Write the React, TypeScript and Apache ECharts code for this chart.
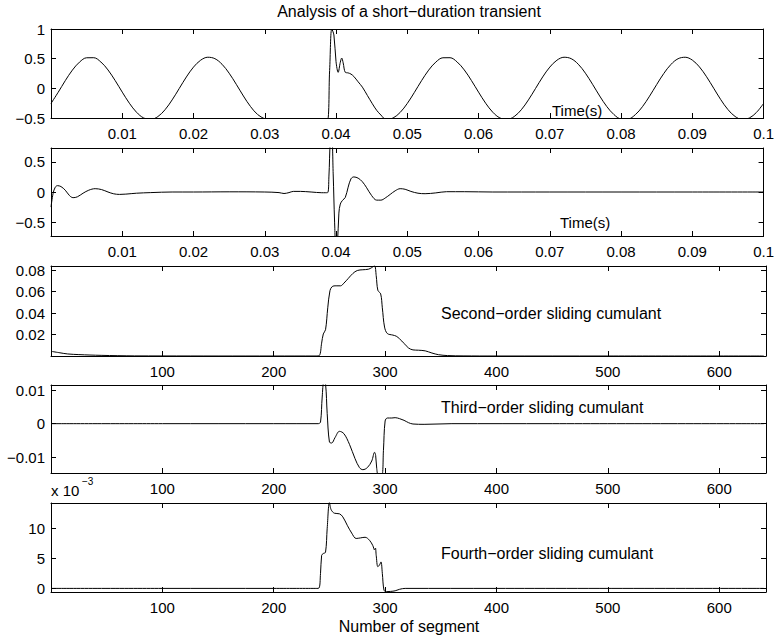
import React, { useEffect, useRef } from "react";
import * as echarts from "echarts";

const FONT = "'Liberation Sans', Arial, Helvetica, sans-serif";

// Panel 1: measured signal (time s, amplitude)
const waveSignal: [number, number][] = [
  [0.0, -0.255], [0.001, -0.068], [0.002, 0.129], [0.003, 0.307], [0.004, 0.442],
  [0.005, 0.515], [0.006, 0.516], [0.007, 0.444], [0.008, 0.31], [0.009, 0.132],
  [0.01, -0.064], [0.011, -0.251], [0.012, -0.403], [0.013, -0.499], [0.014, -0.524],
  [0.015, -0.476], [0.016, -0.361], [0.017, -0.195], [0.018, -0.002], [0.019, 0.192],
  [0.02, 0.358], [0.021, 0.474], [0.022, 0.524], [0.023, 0.5], [0.024, 0.406],
  [0.025, 0.255], [0.026, 0.068], [0.027, -0.129], [0.028, -0.307], [0.029, -0.442],
  [0.03, -0.515], [0.031, -0.56], [0.033, -0.58], [0.035, -0.58], [0.037, -0.58],
  [0.0387, -0.58], [0.0391, 0.3], [0.0394, 1.0], [0.0397, 0.9], [0.04, 0.45],
  [0.0403, 0.27], [0.0406, 0.44], [0.0408, 0.51], [0.041, 0.43], [0.0413, 0.27],
  [0.0417, 0.26], [0.0421, 0.24], [0.0425, 0.2], [0.0431, 0.11], [0.0437, 0.02],
  [0.0444, -0.12], [0.0451, -0.26], [0.0457, -0.37], [0.0463, -0.45], [0.047, -0.524],
  [0.048, -0.5], [0.049, -0.406], [0.05, -0.255], [0.051, -0.068], [0.052, 0.129],
  [0.053, 0.307], [0.054, 0.442], [0.055, 0.515], [0.056, 0.516], [0.057, 0.444],
  [0.058, 0.31], [0.059, 0.132], [0.06, -0.064], [0.061, -0.251], [0.062, -0.403],
  [0.063, -0.499], [0.064, -0.524], [0.065, -0.476], [0.066, -0.361], [0.067, -0.195],
  [0.068, -0.002], [0.069, 0.192], [0.07, 0.358], [0.071, 0.474], [0.072, 0.524],
  [0.073, 0.5], [0.074, 0.406], [0.075, 0.255], [0.076, 0.068], [0.077, -0.129],
  [0.078, -0.307], [0.079, -0.442], [0.08, -0.515], [0.081, -0.516], [0.082, -0.444],
  [0.083, -0.31], [0.084, -0.132], [0.085, 0.064], [0.086, 0.251], [0.087, 0.403],
  [0.088, 0.499], [0.089, 0.524], [0.09, 0.476], [0.091, 0.361], [0.092, 0.195],
  [0.093, 0.002], [0.094, -0.192], [0.095, -0.358], [0.096, -0.474], [0.097, -0.524],
  [0.098, -0.5], [0.099, -0.406], [0.1, -0.255],
];

// Panel 2: transient component (time s, amplitude)
const transientDetail: [number, number][] = [
  [0.0, -0.25], [0.0003, -0.02], [0.0006, 0.08], [0.0009, 0.105], [0.0014, 0.09],
  [0.002, 0.03], [0.0026, -0.06], [0.0031, -0.094], [0.0037, -0.08], [0.0045, -0.02],
  [0.0053, 0.03], [0.0062, 0.055], [0.0071, 0.04], [0.008, 0.0], [0.0088, -0.03],
  [0.0096, -0.04], [0.0105, -0.035], [0.012, -0.02], [0.014, -0.01], [0.017, 0.0],
  [0.02, 0.0], [0.025, 0.003], [0.03, 0.0], [0.032, -0.01], [0.0327, -0.025],
  [0.0334, -0.01], [0.034, 0.01], [0.035, 0.01], [0.0365, 0.0], [0.038, -0.012],
  [0.0388, -0.012], [0.039, 0.25], [0.0392, 0.85], [0.0394, 0.9], [0.0396, 0.3],
  [0.0398, -0.5], [0.04, -0.95], [0.0402, -0.85], [0.0404, -0.35], [0.0406, -0.2],
  [0.0409, -0.14], [0.0413, -0.09], [0.0417, 0.08], [0.0421, 0.22], [0.0425, 0.25],
  [0.0431, 0.23], [0.0437, 0.17], [0.0443, 0.07], [0.045, -0.06], [0.0457, -0.135],
  [0.0463, -0.135], [0.0469, -0.1], [0.0476, -0.04], [0.0483, 0.02], [0.049, 0.055],
  [0.0497, 0.045], [0.0505, 0.01], [0.0515, -0.02], [0.0525, -0.028], [0.054, -0.015],
  [0.0555, 0.005], [0.058, 0.005], [0.062, 0.0], [0.07, 0.0], [0.08, 0.0],
  [0.09, 0.0], [0.1, 0.0],
];

// Panel 3: second-order sliding cumulant (segment, value)
const secondOrder: [number, number][] = [
  [1, 0.0042], [8, 0.003], [15, 0.0019], [25, 0.0013], [35, 0.0009], [45, 0.0006],
  [60, 0.0003], [75, 0.0001], [100, 0.00005], [150, 0.0], [200, 0.0], [238, 0.0],
  [241, 0.0005], [243, 0.012], [244.5, 0.0206], [246.5, 0.0245], [248.5, 0.045],
  [250.5, 0.061], [252.5, 0.0648], [256, 0.0655], [260, 0.0655], [263, 0.068],
  [267, 0.0725], [271, 0.077], [275, 0.0798], [280, 0.0805], [285, 0.081],
  [288, 0.0825], [290.5, 0.0842], [292, 0.075], [293.5, 0.0613], [296, 0.058],
  [297.5, 0.045], [299.5, 0.027], [302, 0.021], [307, 0.0195], [310, 0.0185],
  [313, 0.016], [317, 0.0118], [321, 0.0075], [325, 0.0057], [330, 0.0054],
  [336, 0.0048], [342, 0.0028], [348, 0.0012], [356, 0.0004], [370, 0.0001],
  [400, 0.0], [500, 0.0], [640, 0.0],
];

// Panel 4: third-order sliding cumulant (segment, value)
const thirdOrder: [number, number][] = [
  [1, 0.0], [100, 0.0], [200, 0.0], [240, 0.0], [242, 0.0005], [243.5, 0.008],
  [245, 0.0125], [246.5, 0.012], [248, 0.003], [250, -0.0055], [252, -0.0058],
  [255, -0.0042], [259, -0.0023], [263, -0.003], [268, -0.0062], [273, -0.0105],
  [277, -0.0132], [280, -0.0138], [284, -0.0132], [288, -0.0112], [290.5, -0.0086],
  [291.5, -0.0095], [292.5, -0.0135], [294, -0.0155], [297, -0.0155], [298.5, -0.008],
  [300, 0.0008], [302, 0.0017], [306, 0.0017], [309, 0.0018], [313, 0.0015],
  [317, 0.001], [321, 0.0003], [325, -0.0001], [335, -0.0002], [360, 0.0],
  [450, 0.0], [640, 0.0],
];

// Panel 5: fourth-order sliding cumulant (segment, value x 10^-3)
const fourthOrder: [number, number][] = [
  [1, 0.0], [100, 0.0], [200, 0.0], [240, 0.0], [242, 2.5], [243, 5.5],
  [244.5, 5.8], [246.5, 6.0], [248, 10.0], [250, 14.3], [251.5, 13.1], [254.5, 12.5],
  [259, 12.4], [262, 11.9], [266, 10.5], [270, 9.2], [274, 8.3], [278, 8.4],
  [282, 8.5], [286, 8.0], [289, 7.1], [290.5, 6.4], [291.3, 6.7], [292, 5.5],
  [293.5, 3.6], [295, 3.9], [296.3, 4.4], [297.5, 2.5], [299, -0.3], [301, -0.55],
  [305, -0.5], [309, -0.4], [313, -0.15], [318, 0.0], [400, 0.0], [640, 0.0],
];

const timeTicks = [0.01, 0.02, 0.03, 0.04, 0.05, 0.06, 0.07, 0.08, 0.09, 0.1];
const segmentTicks = [100, 200, 300, 400, 500, 600];
const waveYTicks = [-0.5, 0, 0.5, 1];
const detailYTicks = [-0.5, 0, 0.5];
const secondYTicks = [0.02, 0.04, 0.06, 0.08];
const thirdYTicks = [-0.01, 0, 0.01];
const fourthYTicks = [0, 5, 10];

const titleText = "Analysis of a short\u2212duration transient";
const xTitleText = "Number of segment";

const panels = [
  { top: 29, height: 89, x: [0, 0.1], y: [-0.5, 1], xt: timeTicks, yt: waveYTicks, data: waveSignal },
  { top: 148, height: 88, x: [0, 0.1], y: [-0.73, 0.73], xt: timeTicks, yt: detailYTicks, data: transientDetail },
  { top: 266, height: 90, x: [0, 642], y: [0, 0.084], xt: segmentTicks, yt: secondYTicks, data: secondOrder },
  { top: 385, height: 88, x: [0, 642], y: [-0.0148, 0.0116], xt: segmentTicks, yt: thirdYTicks, data: thirdOrder },
  { top: 503, height: 89, x: [0, 642], y: [-0.6, 14.2], xt: segmentTicks, yt: fourthYTicks, data: fourthOrder },
];

const fmt = (v: number) => String(v).replace("-", "\u2212");

function buildOption() {
  const grid: any[] = [];
  const xAxis: any[] = [];
  const yAxis: any[] = [];
  const series: any[] = [];
  const lineStyle = { color: "#000", width: 1 };
  const labelStyle = { fontSize: 15, fontFamily: FONT, color: "#000" };
  panels.forEach((p, i) => {
    grid.push({ left: 51, width: 715, top: p.top, height: p.height, containLabel: false });
    const tick = (vals: number[]) => ({ show: true, inside: true, length: 5, customValues: vals, lineStyle: { color: "#000", width: 1 } });
    const base = (min: number, max: number) => ({
      type: "value", gridIndex: i, min, max, scale: true,
      splitLine: { show: false },
      axisLine: { show: true, onZero: false, lineStyle },
    });
    xAxis.push({
      ...base(p.x[0], p.x[1]), position: "bottom", axisTick: tick(p.xt),
      axisLabel: { show: true, customValues: p.xt, formatter: fmt, margin: 8, ...labelStyle },
    });
    xAxis.push({ ...base(p.x[0], p.x[1]), position: "top", axisTick: tick(p.xt), axisLabel: { show: false } });
    yAxis.push({
      ...base(p.y[0], p.y[1]), position: "left", axisTick: tick(p.yt),
      axisLabel: { show: true, customValues: p.yt, formatter: fmt, margin: 6, ...labelStyle },
    });
    yAxis.push({ ...base(p.y[0], p.y[1]), position: "right", axisTick: tick(p.yt), axisLabel: { show: false } });
    series.push({
      type: "line", xAxisIndex: 2 * i, yAxisIndex: 2 * i, data: p.data,
      showSymbol: false, symbol: "none", smooth: 0.35, clip: true, silent: true,
      lineStyle: { color: "#000", width: 1 },
    });
  });

  const txt = (text: string, x: number, y: number, size: number, align = "left") => ({
    type: "text", x, y, silent: true,
    style: {
      text, fill: "#000", font: `${size}px ${FONT}`, fontSize: size, fontFamily: FONT,
      textAlign: align, align, textVerticalAlign: "middle", verticalAlign: "middle",
    },
  });

  const graphic = [
    txt(titleText, 409, 11, 16, "center"),
    txt("Time(s)", 552, 110, 15),
    txt("Time(s)", 560, 222, 15),
    txt("Second\u2212order sliding cumulant", 441, 313, 16),
    txt("Third\u2212order sliding cumulant", 441, 407, 16),
    txt("Fourth\u2212order sliding cumulant", 441, 553, 16),
    txt("x 10", 51, 490, 15),
    txt("\u22123", 82, 481, 10),
    txt(xTitleText, 409, 626, 16, "center"),
  ];

  return { animation: false, backgroundColor: "#fff", grid, xAxis, yAxis, series, graphic };
}

export default function App() {
  const ref = useRef<HTMLDivElement>(null);
  useEffect(() => {
    if (!ref.current) return;
    const chart = echarts.init(ref.current, null, { renderer: "svg" });
    chart.setOption(buildOption() as any);
    return () => chart.dispose();
  }, []);
  return <div ref={ref} style={{ position: "absolute", left: 0, top: 0, width: 777, height: 638 }} />;
}
